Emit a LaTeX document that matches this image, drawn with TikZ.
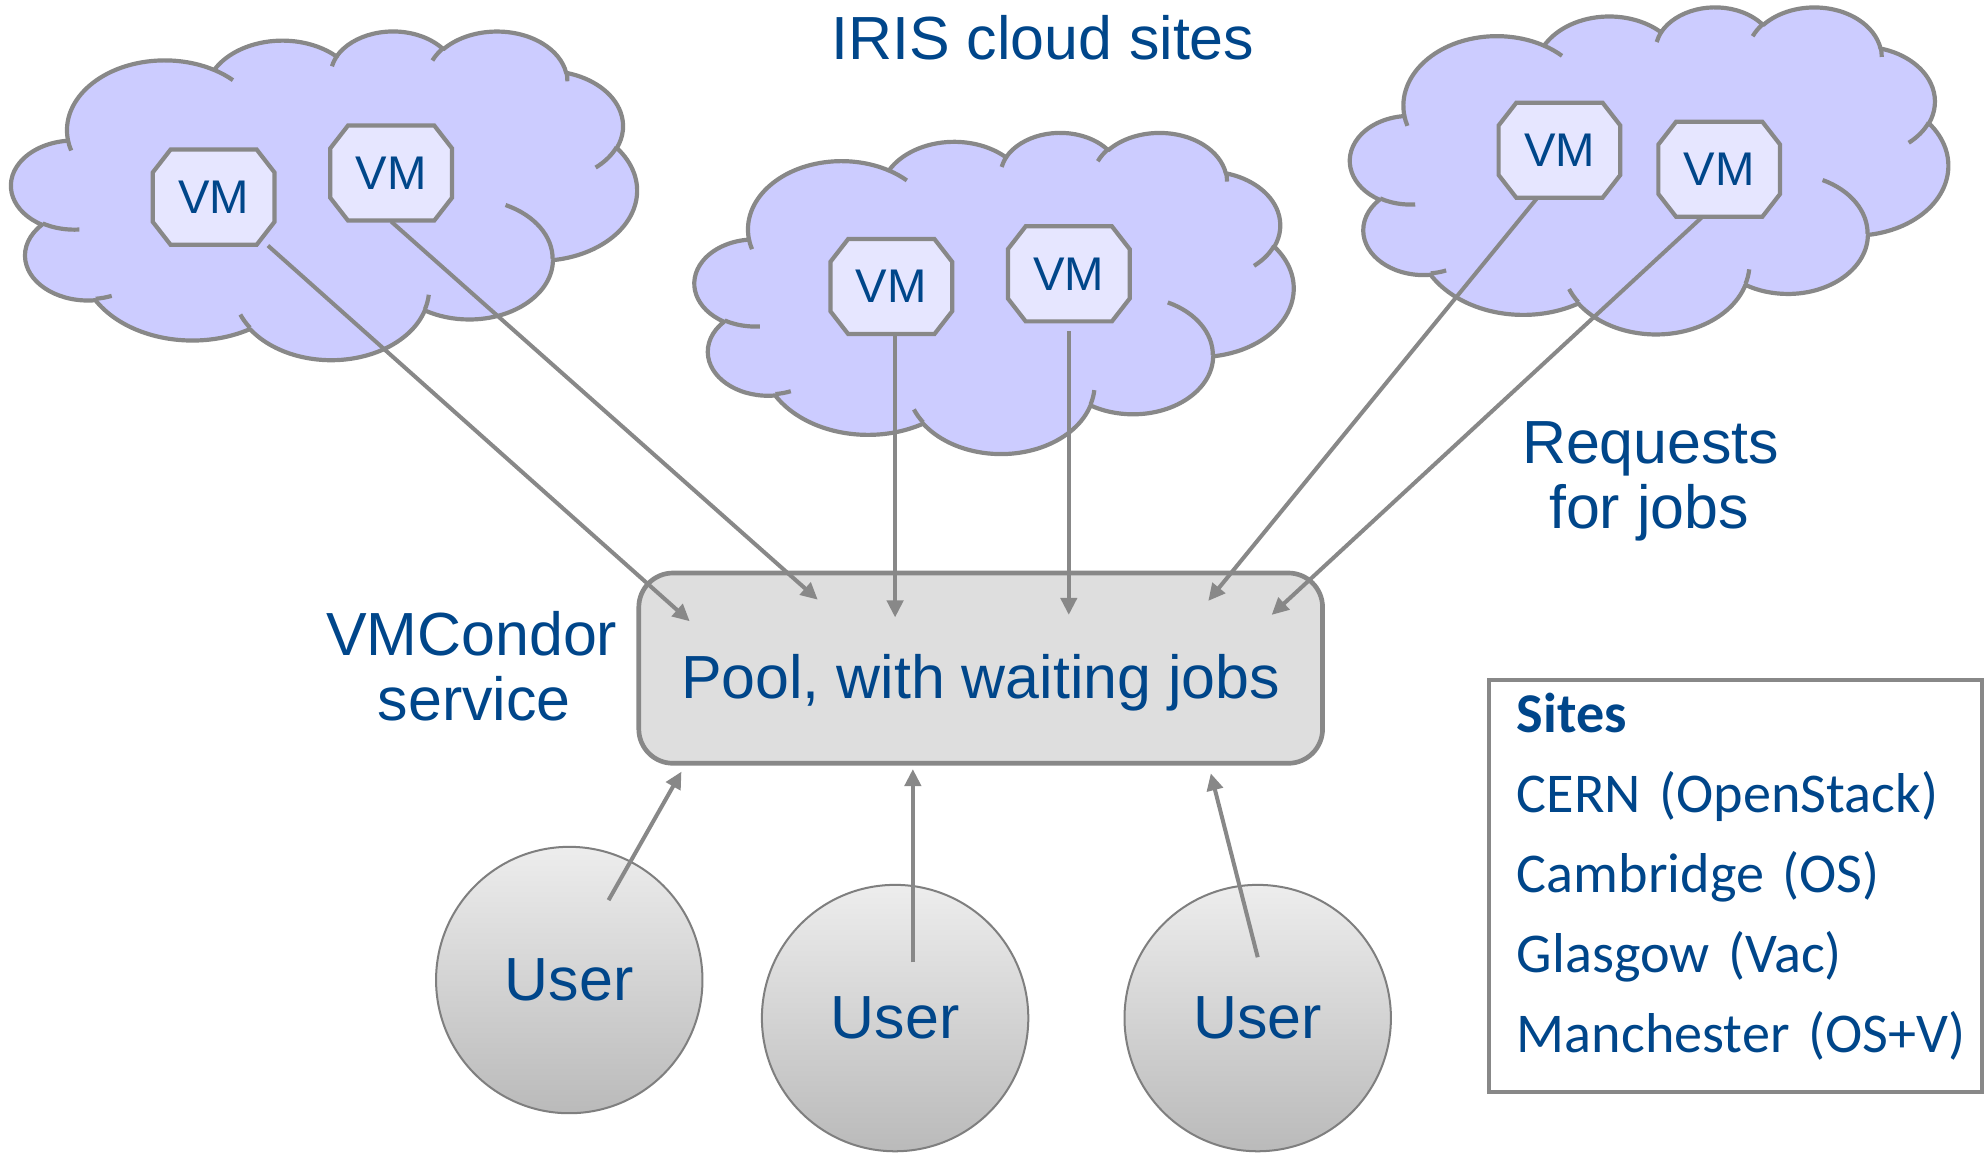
\documentclass[tikz,border=0pt]{standalone}
\usepackage{fontspec}
\setmainfont{Liberation Sans}
\newfontfamily\sitesfont{Carlito}
\usetikzlibrary{arrows.meta,calc}
\definecolor{lineg}{HTML}{888888}
\definecolor{cloudc}{HTML}{CCCCFF}
\definecolor{vmc}{HTML}{E6E6FF}
\definecolor{poolc}{HTML}{DEDEDE}
\definecolor{txtb}{HTML}{00468A}
\definecolor{usertop}{HTML}{EDEDED}
\definecolor{userbot}{HTML}{BABABA}
\definecolor{userline}{HTML}{7F7F7F}
\tikzset{
  cloudbody/.style={fill=cloudc,draw=lineg,line width=0.94pt,line join=round},
  cloudhook/.style={draw=lineg,line width=0.94pt},
  vmoct/.style={fill=vmc,draw=lineg,line width=0.94pt,line join=miter},
  vmlabel/.style={minimum width=0.96cm,minimum height=0.75cm,inner sep=0pt,text=txtb,font=\fontsize{10.6}{12}\selectfont},
  lbl/.style={anchor=base,inner sep=0pt,text=txtb,font=\fontsize{13.66}{16}\selectfont},
  pool/.style={draw=lineg,line width=1.05pt,fill=poolc,rounded corners=0.27cm,minimum width=5.39cm,minimum height=1.5cm,text height=0.60cm,text depth=0.12cm,inner sep=0pt,text=txtb,font=\fontsize{13.66}{16}\selectfont},
  user/.style={circle,minimum size=2.1cm,inner sep=0pt,draw=userline,line width=0.45pt,top color=usertop,bottom color=userbot,text=txtb,font=\fontsize{13.66}{16}\selectfont},
  conn/.style={draw=lineg,line width=0.9pt,-{Triangle[length=3.8pt,width=3.6pt]}},
  sitesbox/.style={draw=lineg,line width=0.9pt,anchor=north west,inner xsep=0.223cm,inner ysep=0pt,text width=3.444cm,text height=0.415cm,text depth=2.831cm,align=left,text=txtb,font=\sitesfont\fontsize{12.6}{17.92}\selectfont}
}
\newcommand\drawcloud[4]{%
\begin{scope}[shift={(#1,#2)},x=#3cm,y=-#4cm]
\path[cloudbody] (39.00,143.70)
 arc[start angle=172.25,delta angle=128.11,x radius=67.53,y radius=91.90]
 arc[start angle=-152.03,delta angle=106.57,x radius=53.33,y radius=72.67]
 arc[start angle=-153.49,delta angle=116.16,x radius=43.65,y radius=59.45]
 arc[start angle=-139.71,delta angle=129.50,x radius=48.57,y radius=65.95]
 arc[start angle=-74.77,delta angle=97.98,x radius=53.33,y radius=72.73]
 arc[start angle=-37.52,delta angle=119.38,x radius=67.75,y radius=92.20]
 arc[start angle=0.46,delta angle=121.52,x radius=57.85,y radius=78.67]
 arc[start angle=16.84,delta angle=129.38,x radius=67.52,y radius=92.15]
 arc[start angle=58.99,delta angle=91.20,x radius=77.20,y radius=105.43]
 arc[start angle=-276.69,delta angle=139.78,x radius=43.60,y radius=59.18]
 arc[start angle=-239.65,delta angle=143.76,x radius=43.45,y radius=59.45]
 -- cycle;
\path[cloudhook]
 (46.93,261.77) arc[start angle=85.55,delta angle=34.80,x radius=43.45,y radius=59.45]
 (69.28,348.99) arc[start angle=68.24,delta angle=15.07,x radius=43.60,y radius=59.18]
 (164.78,390.90) arc[start angle=146.23,delta angle=12.24,x radius=67.52,y radius=92.15]
 (288.27,347.51) arc[start angle=4.74,delta angle=12.11,x radius=67.52,y radius=92.15]
 (341.29,229.54) arc[start angle=-64.03,delta angle=64.49,x radius=57.85,y radius=78.67]
 (417.98,153.54) arc[start angle=23.21,delta angle=26.43,x radius=53.33,y radius=72.73]
 (383.24,54.26) arc[start angle=-10.21,delta angle=11.03,x radius=48.57,y radius=65.95]
 (290.78,39.52) arc[start angle=-156.29,delta angle=16.58,x radius=48.57,y radius=65.95]
 (221.41,47.20) arc[start angle=-167.73,delta angle=14.24,x radius=43.65,y radius=59.45]
 (140.00,51.92) arc[start angle=-59.64,delta angle=13.90,x radius=67.53,y radius=91.90]
 (41.27,157.89) arc[start angle=163.19,delta angle=9.06,x radius=67.53,y radius=91.90];
\end{scope}}
\newcommand\vmnode[3]{%
\path[vmoct,shift={(#2,#3)}] (-34,-37.5) -- (34,-37.5) -- (48,-19.5) -- (48,19.5) -- (34,37.5) -- (-34,37.5) -- (-48,19.5) -- (-48,-19.5) -- cycle;
\node[vmlabel] (#1) at (#2,#3) {VM};}
\begin{document}
\begin{tikzpicture}[x=0.01cm,y=-0.01cm]
\useasboundingbox (0,0) rectangle (1568,910);
\fill[white] (0,0) rectangle (1568,910);
% clouds
\drawcloud{9}{24}{0.011412}{0.0059954}
\drawcloud{548}{104}{0.0109259}{0.0058565}
\drawcloud{1065}{5}{0.0109028}{0.0059722}
% VMs
\vmnode{v1}{168.5}{155.5}
\vmnode{v2}{308.5}{136.5}
\vmnode{v3}{703}{226}
\vmnode{v4}{843}{216}
\vmnode{v5}{1230}{118.5}
\vmnode{v6}{1356}{133.5}
% pool
\node[pool] (pool) at (773.5,527) {Pool, with waiting jobs};
% users
\node[user] (u1) at (449,773) {User};
\node[user] (u2) at (706,803) {User};
\node[user] (u3) at (992,803) {User};
% labels
\node[lbl] (title) at (822.5,46.8) {IRIS cloud sites};
\node[lbl] (vmc1) at (372,517.4) {VMCondor};
\node[lbl] (vmc2) at (374,568.3) {service};
\node[lbl] (req1) at (1302,365.4) {Requests};
\node[lbl] (req2) at (1300.6,416.7) {for jobs};
% arrow end points
\coordinate (t1) at (544,490);
\coordinate (t2) at (645,473);
\coordinate (t3) at (706,487);
\coordinate (t4) at (843,485);
\coordinate (t5) at (953,474);
\coordinate (t6) at (1003,485);
\coordinate (tu1) at (537.5,608.6);
\coordinate (tu2) at (720,606.6);
\coordinate (tu3) at (955,610);
% connectors
\draw[conn] (v1) -- (t1);
\draw[conn] (v2.south) -- (t2);
\draw[conn] (t3 |- v3.south) -- (t3);
\draw[conn] ($(t4 |- v4.south)+(0,7)$) -- (t4);
\draw[conn] ($(v5.south)+(-18,0)$) -- (t5);
\draw[conn] ($(v6.south)+(-14,0)$) -- (t6);
\draw[conn] ($(u1)+(31,-63)$) -- (tu1);
\draw[conn] ($(u2)+(14,-44)$) -- (tu2);
\draw[conn] ($(u3)+(0,-48)$) -- (tu3);
% sites
\node[sitesbox] (sites) at (1172.5,535) {\mbox{\textbf{Sites}}\\\mbox{CERN (OpenStack)}\\\mbox{Cambridge (OS)}\\\mbox{Glasgow (Vac)}\\\mbox{Manchester (OS+V)}};
\end{tikzpicture}
\end{document}
